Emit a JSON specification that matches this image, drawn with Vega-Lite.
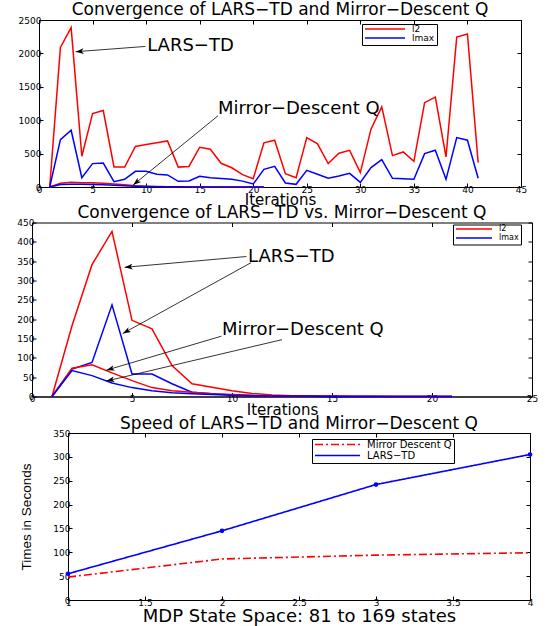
{
  "$schema": "https://vega.github.io/schema/vega-lite/v6.json",
  "background": "white",
  "padding": {"left": 0, "top": 0, "right": 0, "bottom": 0},
  "spacing": -4.5,
  "resolve": {"scale": {"color": "independent", "strokeDash": "independent"}, "legend": {"color": "independent", "strokeDash": "independent"}},
  "config": {
    "font": "DejaVu Sans",
    "view": {"stroke": "black", "strokeWidth": 1},
    "axis": {"grid": false, "domainColor": "black", "tickColor": "black", "tickSize": -4, "labelFont": "DejaVu Sans", "labelFontSize": 9, "labelColor": "black", "labelPadding": 2, "labelFlush": false, "labelOverlap": false, "titleFont": "DejaVu Sans", "titleFontWeight": "normal", "titleColor": "black", "titleFontSize": 15, "titlePadding": -3},
    "legend": {"strokeColor": "black", "fillColor": "white", "padding": 2, "labelFont": "DejaVu Sans", "labelColor": "black", "symbolType": "stroke", "symbolStrokeWidth": 1.5, "rowPadding": 0, "labelOffset": 6, "cornerRadius": 0},
    "title": {"font": "DejaVu Sans", "fontWeight": "normal", "fontSize": 17, "color": "black", "frame": "group", "anchor": "middle", "baseline": "alphabetic"},
    "text": {"font": "DejaVu Sans"}
  },
  "datasets": {
    "p1": [
      {"it":1,"v":0,"m":"l2","g":"LARS"},{"it":2,"v":2090,"m":"l2","g":"LARS"},{"it":3,"v":2385,"m":"l2","g":"LARS"},{"it":4,"v":460,"m":"l2","g":"LARS"},{"it":5,"v":1100,"m":"l2","g":"LARS"},{"it":6,"v":1145,"m":"l2","g":"LARS"},{"it":7,"v":300,"m":"l2","g":"LARS"},{"it":8,"v":298,"m":"l2","g":"LARS"},{"it":9,"v":608,"m":"l2","g":"LARS"},{"it":10,"v":635,"m":"l2","g":"LARS"},{"it":11,"v":662,"m":"l2","g":"LARS"},{"it":12,"v":690,"m":"l2","g":"LARS"},{"it":13,"v":298,"m":"l2","g":"LARS"},{"it":14,"v":308,"m":"l2","g":"LARS"},{"it":15,"v":595,"m":"l2","g":"LARS"},{"it":16,"v":565,"m":"l2","g":"LARS"},{"it":17,"v":355,"m":"l2","g":"LARS"},{"it":18,"v":288,"m":"l2","g":"LARS"},{"it":19,"v":185,"m":"l2","g":"LARS"},{"it":20,"v":125,"m":"l2","g":"LARS"},{"it":21,"v":662,"m":"l2","g":"LARS"},{"it":22,"v":700,"m":"l2","g":"LARS"},{"it":23,"v":200,"m":"l2","g":"LARS"},{"it":24,"v":140,"m":"l2","g":"LARS"},{"it":25,"v":740,"m":"l2","g":"LARS"},{"it":26,"v":645,"m":"l2","g":"LARS"},{"it":27,"v":352,"m":"l2","g":"LARS"},{"it":28,"v":505,"m":"l2","g":"LARS"},{"it":29,"v":548,"m":"l2","g":"LARS"},{"it":30,"v":215,"m":"l2","g":"LARS"},{"it":31,"v":870,"m":"l2","g":"LARS"},{"it":32,"v":1200,"m":"l2","g":"LARS"},{"it":33,"v":470,"m":"l2","g":"LARS"},{"it":34,"v":525,"m":"l2","g":"LARS"},{"it":35,"v":385,"m":"l2","g":"LARS"},{"it":36,"v":1262,"m":"l2","g":"LARS"},{"it":37,"v":1345,"m":"l2","g":"LARS"},{"it":38,"v":450,"m":"l2","g":"LARS"},{"it":39,"v":2245,"m":"l2","g":"LARS"},{"it":40,"v":2290,"m":"l2","g":"LARS"},{"it":41,"v":365,"m":"l2","g":"LARS"},
      {"it":1,"v":0,"m":"lmax","g":"LARS"},{"it":2,"v":710,"m":"lmax","g":"LARS"},{"it":3,"v":850,"m":"lmax","g":"LARS"},{"it":4,"v":140,"m":"lmax","g":"LARS"},{"it":5,"v":350,"m":"lmax","g":"LARS"},{"it":6,"v":358,"m":"lmax","g":"LARS"},{"it":7,"v":80,"m":"lmax","g":"LARS"},{"it":8,"v":115,"m":"lmax","g":"LARS"},{"it":9,"v":235,"m":"lmax","g":"LARS"},{"it":10,"v":235,"m":"lmax","g":"LARS"},{"it":11,"v":190,"m":"lmax","g":"LARS"},{"it":12,"v":180,"m":"lmax","g":"LARS"},{"it":13,"v":85,"m":"lmax","g":"LARS"},{"it":14,"v":90,"m":"lmax","g":"LARS"},{"it":15,"v":160,"m":"lmax","g":"LARS"},{"it":16,"v":140,"m":"lmax","g":"LARS"},{"it":17,"v":128,"m":"lmax","g":"LARS"},{"it":18,"v":115,"m":"lmax","g":"LARS"},{"it":19,"v":88,"m":"lmax","g":"LARS"},{"it":20,"v":45,"m":"lmax","g":"LARS"},{"it":21,"v":265,"m":"lmax","g":"LARS"},{"it":22,"v":310,"m":"lmax","g":"LARS"},{"it":23,"v":60,"m":"lmax","g":"LARS"},{"it":24,"v":40,"m":"lmax","g":"LARS"},{"it":25,"v":250,"m":"lmax","g":"LARS"},{"it":26,"v":190,"m":"lmax","g":"LARS"},{"it":27,"v":130,"m":"lmax","g":"LARS"},{"it":28,"v":165,"m":"lmax","g":"LARS"},{"it":29,"v":205,"m":"lmax","g":"LARS"},{"it":30,"v":70,"m":"lmax","g":"LARS"},{"it":31,"v":290,"m":"lmax","g":"LARS"},{"it":32,"v":410,"m":"lmax","g":"LARS"},{"it":33,"v":130,"m":"lmax","g":"LARS"},{"it":34,"v":125,"m":"lmax","g":"LARS"},{"it":35,"v":115,"m":"lmax","g":"LARS"},{"it":36,"v":500,"m":"lmax","g":"LARS"},{"it":37,"v":550,"m":"lmax","g":"LARS"},{"it":38,"v":115,"m":"lmax","g":"LARS"},{"it":39,"v":740,"m":"lmax","g":"LARS"},{"it":40,"v":700,"m":"lmax","g":"LARS"},{"it":41,"v":130,"m":"lmax","g":"LARS"},
      {"it":1,"v":0,"m":"l2","g":"MD"},{"it":2,"v":55,"m":"l2","g":"MD"},{"it":3,"v":70,"m":"l2","g":"MD"},{"it":4,"v":65,"m":"l2","g":"MD"},{"it":5,"v":62,"m":"l2","g":"MD"},{"it":6,"v":55,"m":"l2","g":"MD"},{"it":7,"v":45,"m":"l2","g":"MD"},{"it":8,"v":32,"m":"l2","g":"MD"},{"it":9,"v":20,"m":"l2","g":"MD"},{"it":10,"v":12,"m":"l2","g":"MD"},{"it":11,"v":7,"m":"l2","g":"MD"},{"it":12,"v":4,"m":"l2","g":"MD"},{"it":13,"v":3,"m":"l2","g":"MD"},{"it":14,"v":2,"m":"l2","g":"MD"},{"it":15,"v":1,"m":"l2","g":"MD"},{"it":16,"v":1,"m":"l2","g":"MD"},{"it":17,"v":0.5,"m":"l2","g":"MD"},{"it":18,"v":0.5,"m":"l2","g":"MD"},{"it":19,"v":0,"m":"l2","g":"MD"},{"it":20,"v":0,"m":"l2","g":"MD"},{"it":21,"v":0,"m":"l2","g":"MD"},
      {"it":1,"v":0,"m":"lmax","g":"MD"},{"it":2,"v":38,"m":"lmax","g":"MD"},{"it":3,"v":42,"m":"lmax","g":"MD"},{"it":4,"v":40,"m":"lmax","g":"MD"},{"it":5,"v":37,"m":"lmax","g":"MD"},{"it":6,"v":32,"m":"lmax","g":"MD"},{"it":7,"v":26,"m":"lmax","g":"MD"},{"it":8,"v":18,"m":"lmax","g":"MD"},{"it":9,"v":12,"m":"lmax","g":"MD"},{"it":10,"v":7,"m":"lmax","g":"MD"},{"it":11,"v":4,"m":"lmax","g":"MD"},{"it":12,"v":3,"m":"lmax","g":"MD"},{"it":13,"v":2,"m":"lmax","g":"MD"},{"it":14,"v":1,"m":"lmax","g":"MD"},{"it":15,"v":1,"m":"lmax","g":"MD"},{"it":16,"v":0.5,"m":"lmax","g":"MD"},{"it":17,"v":0,"m":"lmax","g":"MD"},{"it":18,"v":0,"m":"lmax","g":"MD"},{"it":19,"v":0,"m":"lmax","g":"MD"},{"it":20,"v":0,"m":"lmax","g":"MD"},{"it":21,"v":0,"m":"lmax","g":"MD"}
    ],
    "p2": [
      {"it":1,"v":0,"m":"l2","g":"LARS"},{"it":2,"v":183,"m":"l2","g":"LARS"},{"it":3,"v":341,"m":"l2","g":"LARS"},{"it":4,"v":427,"m":"l2","g":"LARS"},{"it":5,"v":197,"m":"l2","g":"LARS"},{"it":6,"v":175,"m":"l2","g":"LARS"},{"it":7,"v":80,"m":"l2","g":"LARS"},{"it":8,"v":33,"m":"l2","g":"LARS"},{"it":9,"v":24,"m":"l2","g":"LARS"},{"it":10,"v":15,"m":"l2","g":"LARS"},{"it":11,"v":8,"m":"l2","g":"LARS"},{"it":12,"v":4,"m":"l2","g":"LARS"},{"it":13,"v":2,"m":"l2","g":"LARS"},{"it":14,"v":1,"m":"l2","g":"LARS"},{"it":15,"v":1,"m":"l2","g":"LARS"},{"it":16,"v":0.5,"m":"l2","g":"LARS"},{"it":17,"v":0.5,"m":"l2","g":"LARS"},{"it":18,"v":0,"m":"l2","g":"LARS"},{"it":19,"v":0,"m":"l2","g":"LARS"},{"it":20,"v":0,"m":"l2","g":"LARS"},{"it":21,"v":0,"m":"l2","g":"LARS"},
      {"it":1,"v":0,"m":"lmax","g":"LARS"},{"it":2,"v":71,"m":"lmax","g":"LARS"},{"it":3,"v":88,"m":"lmax","g":"LARS"},{"it":4,"v":237,"m":"lmax","g":"LARS"},{"it":5,"v":58,"m":"lmax","g":"LARS"},{"it":6,"v":58,"m":"lmax","g":"LARS"},{"it":7,"v":33,"m":"lmax","g":"LARS"},{"it":8,"v":11,"m":"lmax","g":"LARS"},{"it":9,"v":7,"m":"lmax","g":"LARS"},{"it":10,"v":4,"m":"lmax","g":"LARS"},{"it":11,"v":2,"m":"lmax","g":"LARS"},{"it":12,"v":1,"m":"lmax","g":"LARS"},{"it":13,"v":1,"m":"lmax","g":"LARS"},{"it":14,"v":0.5,"m":"lmax","g":"LARS"},{"it":15,"v":0,"m":"lmax","g":"LARS"},{"it":16,"v":0,"m":"lmax","g":"LARS"},{"it":17,"v":0,"m":"lmax","g":"LARS"},{"it":18,"v":0,"m":"lmax","g":"LARS"},{"it":19,"v":0,"m":"lmax","g":"LARS"},{"it":20,"v":0,"m":"lmax","g":"LARS"},{"it":21,"v":0,"m":"lmax","g":"LARS"},
      {"it":1,"v":0,"m":"l2","g":"MD"},{"it":2,"v":73,"m":"l2","g":"MD"},{"it":3,"v":82,"m":"l2","g":"MD"},{"it":4,"v":61,"m":"l2","g":"MD"},{"it":5,"v":41,"m":"l2","g":"MD"},{"it":6,"v":23,"m":"l2","g":"MD"},{"it":7,"v":15,"m":"l2","g":"MD"},{"it":8,"v":11,"m":"l2","g":"MD"},{"it":9,"v":7,"m":"l2","g":"MD"},{"it":10,"v":5,"m":"l2","g":"MD"},{"it":11,"v":3,"m":"l2","g":"MD"},{"it":12,"v":2,"m":"l2","g":"MD"},{"it":13,"v":1,"m":"l2","g":"MD"},{"it":14,"v":1,"m":"l2","g":"MD"},{"it":15,"v":0.5,"m":"l2","g":"MD"},{"it":16,"v":0,"m":"l2","g":"MD"},{"it":17,"v":0,"m":"l2","g":"MD"},{"it":18,"v":0,"m":"l2","g":"MD"},{"it":19,"v":0,"m":"l2","g":"MD"},{"it":20,"v":0,"m":"l2","g":"MD"},{"it":21,"v":0,"m":"l2","g":"MD"},
      {"it":1,"v":0,"m":"lmax","g":"MD"},{"it":2,"v":67,"m":"lmax","g":"MD"},{"it":3,"v":54,"m":"lmax","g":"MD"},{"it":4,"v":35,"m":"lmax","g":"MD"},{"it":5,"v":23,"m":"lmax","g":"MD"},{"it":6,"v":15,"m":"lmax","g":"MD"},{"it":7,"v":10,"m":"lmax","g":"MD"},{"it":8,"v":7,"m":"lmax","g":"MD"},{"it":9,"v":5,"m":"lmax","g":"MD"},{"it":10,"v":3,"m":"lmax","g":"MD"},{"it":11,"v":2,"m":"lmax","g":"MD"},{"it":12,"v":1,"m":"lmax","g":"MD"},{"it":13,"v":1,"m":"lmax","g":"MD"},{"it":14,"v":0.5,"m":"lmax","g":"MD"},{"it":15,"v":0,"m":"lmax","g":"MD"},{"it":16,"v":0,"m":"lmax","g":"MD"},{"it":17,"v":0,"m":"lmax","g":"MD"},{"it":18,"v":0,"m":"lmax","g":"MD"},{"it":19,"v":0,"m":"lmax","g":"MD"},{"it":20,"v":0,"m":"lmax","g":"MD"},{"it":21,"v":0,"m":"lmax","g":"MD"}
    ],
    "p3": [
      {"state":1,"seconds":48,"method":"Mirror Descent Q"},{"state":2,"seconds":86,"method":"Mirror Descent Q"},{"state":3,"seconds":94,"method":"Mirror Descent Q"},{"state":4,"seconds":99,"method":"Mirror Descent Q"},
      {"state":1,"seconds":55,"method":"LARS−TD"},{"state":2,"seconds":145,"method":"LARS−TD"},{"state":3,"seconds":242,"method":"LARS−TD"},{"state":4,"seconds":305,"method":"LARS−TD"}
    ],
    "labels1": [
      {"label":"LARS−TD","x":10.1,"y":2115},
      {"label":"Mirror−Descent Q","x":16.7,"y":1170}
    ],
    "arrows1": [
      {"id":"a1","x":9.93,"y":2104,"hx":3.42,"hy":2025},
      {"id":"a2","x":16.7,"y":1065,"hx":8.79,"hy":30}
    ],
    "labels2": [
      {"label":"LARS−TD","x":10.8,"y":362},
      {"label":"Mirror−Descent Q","x":9.5,"y":171}
    ],
    "arrows2": [
      {"id":"b1","x":10.72,"y":362,"hx":4.63,"hy":334},
      {"id":"b2","x":10.95,"y":346,"hx":4.54,"hy":163},
      {"id":"b3","x":9.47,"y":156,"hx":3.72,"hy":68},
      {"id":"b4","x":12.5,"y":147,"hx":3.72,"hy":40}
    ],
    "none": []
  },
  "vconcat": [
    {
      "spacing": 0,
      "hconcat": [
        {"width": 17, "height": 1, "data": {"name": "none"}, "mark": "point", "view": {"stroke": null}},
        {
          "title": {"text": "Convergence of LARS−TD and Mirror−Descent Q", "offset": -3},
          "width": 482,
          "height": 167,
          "resolve": {"axis": {"x": "independent", "y": "independent"}},
          "layer": [
            {
              "data": {"name": "p1"},
              "mark": {"type": "line", "strokeWidth": 1.5},
              "encoding": {
                "x": {"field": "it", "type": "quantitative", "scale": {"domain": [0, 45], "nice": false, "zero": false}, "axis": {"orient": "bottom", "values": [0,5,10,15,20,25,30,35,40,45], "title": "Iterations", "titlePadding": -2}},
                "y": {"field": "v", "type": "quantitative", "scale": {"domain": [0, 2500], "nice": false}, "axis": {"values": [0,500,1000,1500,2000,2500], "format": "d", "title": null}},
                "color": {"field": "m", "type": "nominal", "scale": {"domain": ["l2", "lmax"], "range": ["#ff0000", "#0000ff"]}, "legend": {"title": null, "orient": "none", "legendX": 362, "legendY": 4, "symbolSize": 1600, "labelFontSize": 9, "clipHeight": 6}},
                "detail": {"field": "g", "type": "nominal"}
              }
            },
            {
              "data": {"name": "arrows1"},
              "mark": {"type": "rule", "color": "black", "strokeWidth": 0.8},
              "encoding": {
                "x": {"field": "x", "type": "quantitative", "scale": {"domain": [0, 45], "nice": false, "zero": false}, "axis": {"orient": "top", "values": [0,5,10,15,20,25,30,35,40,45], "labels": false, "title": null, "domain": false}},
                "y": {"field": "y", "type": "quantitative", "scale": {"domain": [0, 2500], "nice": false}, "axis": {"orient": "right", "values": [0,500,1000,1500,2000,2500], "labels": false, "title": null, "domain": false}},
                "x2": {"field": "hx"},
                "y2": {"field": "hy"}
              }
            },
            {
              "data": {"name": "arrows1"},
              "transform": [{"filter": "datum.id == 'a1'"}],
              "mark": {"type": "point", "shape": "M0,0L-2,-0.7L-1.5,0L-2,0.7Z", "filled": true, "color": "black", "opacity": 1, "size": 64, "angle": 175.6},
              "encoding": {
                "x": {"field": "hx", "type": "quantitative", "scale": {"domain": [0, 45], "nice": false, "zero": false}, "axis": null},
                "y": {"field": "hy", "type": "quantitative", "scale": {"domain": [0, 2500], "nice": false}, "axis": null}
              }
            },
            {
              "data": {"name": "arrows1"},
              "transform": [{"filter": "datum.id == 'a2'"}],
              "mark": {"type": "point", "shape": "M0,0L-2,-0.7L-1.5,0L-2,0.7Z", "filled": true, "color": "black", "opacity": 1, "size": 64, "angle": 140.8},
              "encoding": {
                "x": {"field": "hx", "type": "quantitative", "scale": {"domain": [0, 45], "nice": false, "zero": false}, "axis": null},
                "y": {"field": "hy", "type": "quantitative", "scale": {"domain": [0, 2500], "nice": false}, "axis": null}
              }
            },
            {
              "data": {"name": "labels1"},
              "mark": {"type": "text", "align": "left", "baseline": "middle", "fontSize": 18, "color": "black"},
              "encoding": {
                "x": {"field": "x", "type": "quantitative", "scale": {"domain": [0, 45], "nice": false, "zero": false}, "axis": null},
                "y": {"field": "y", "type": "quantitative", "scale": {"domain": [0, 2500], "nice": false}, "axis": null},
                "text": {"field": "label"}
              }
            }
          ]
        }
      ]
    },
    {
      "spacing": 0,
      "hconcat": [
        {"width": 15.5, "height": 1, "data": {"name": "none"}, "mark": "point", "view": {"stroke": null}},
        {
          "title": {"text": "Convergence of LARS−TD vs. Mirror−Descent Q", "offset": -3.5},
          "width": 500,
          "height": 174,
          "resolve": {"axis": {"x": "independent", "y": "independent"}},
          "layer": [
            {
              "data": {"name": "p2"},
              "mark": {"type": "line", "strokeWidth": 1.5},
              "encoding": {
                "x": {"field": "it", "type": "quantitative", "scale": {"domain": [0, 25], "nice": false, "zero": false}, "axis": {"orient": "bottom", "values": [0,5,10,15,20,25], "title": "Iterations", "titlePadding": -1}},
                "y": {"field": "v", "type": "quantitative", "scale": {"domain": [0, 450], "nice": false}, "axis": {"values": [0,50,100,150,200,250,300,350,400,450], "format": "d", "title": null}},
                "color": {"field": "m", "type": "nominal", "scale": {"domain": ["l2", "lmax"], "range": ["#ff0000", "#0000ff"]}, "legend": {"title": null, "orient": "none", "legendX": 453, "legendY": 2, "symbolSize": 1296, "labelFontSize": 8, "padding": 2, "clipHeight": 5}},
                "detail": {"field": "g", "type": "nominal"}
              }
            },
            {
              "data": {"name": "arrows2"},
              "mark": {"type": "rule", "color": "black", "strokeWidth": 0.8},
              "encoding": {
                "x": {"field": "x", "type": "quantitative", "scale": {"domain": [0, 25], "nice": false, "zero": false}, "axis": {"orient": "top", "values": [0,5,10,15,20,25], "labels": false, "title": null, "domain": false}},
                "y": {"field": "y", "type": "quantitative", "scale": {"domain": [0, 450], "nice": false}, "axis": {"orient": "right", "values": [0,50,100,150,200,250,300,350,400,450], "labels": false, "title": null, "domain": false}},
                "x2": {"field": "hx"},
                "y2": {"field": "hy"}
              }
            },
            {
              "data": {"name": "arrows2"},
              "transform": [{"filter": "datum.id == 'b1'"}],
              "mark": {"type": "point", "shape": "M0,0L-2,-0.7L-1.5,0L-2,0.7Z", "filled": true, "color": "black", "opacity": 1, "size": 64, "angle": 174.8},
              "encoding": {
                "x": {"field": "hx", "type": "quantitative", "scale": {"domain": [0, 25], "nice": false, "zero": false}, "axis": null},
                "y": {"field": "hy", "type": "quantitative", "scale": {"domain": [0, 450], "nice": false}, "axis": null}
              }
            },
            {
              "data": {"name": "arrows2"},
              "transform": [{"filter": "datum.id == 'b2'"}],
              "mark": {"type": "point", "shape": "M0,0L-2,-0.7L-1.5,0L-2,0.7Z", "filled": true, "color": "black", "opacity": 1, "size": 64, "angle": 151.1},
              "encoding": {
                "x": {"field": "hx", "type": "quantitative", "scale": {"domain": [0, 25], "nice": false, "zero": false}, "axis": null},
                "y": {"field": "hy", "type": "quantitative", "scale": {"domain": [0, 450], "nice": false}, "axis": null}
              }
            },
            {
              "data": {"name": "arrows2"},
              "transform": [{"filter": "datum.id == 'b3'"}],
              "mark": {"type": "point", "shape": "M0,0L-2,-0.7L-1.5,0L-2,0.7Z", "filled": true, "color": "black", "opacity": 1, "size": 64, "angle": 163.5},
              "encoding": {
                "x": {"field": "hx", "type": "quantitative", "scale": {"domain": [0, 25], "nice": false, "zero": false}, "axis": null},
                "y": {"field": "hy", "type": "quantitative", "scale": {"domain": [0, 450], "nice": false}, "axis": null}
              }
            },
            {
              "data": {"name": "arrows2"},
              "transform": [{"filter": "datum.id == 'b4'"}],
              "mark": {"type": "point", "shape": "M0,0L-2,-0.7L-1.5,0L-2,0.7Z", "filled": true, "color": "black", "opacity": 1, "size": 64, "angle": 166.7},
              "encoding": {
                "x": {"field": "hx", "type": "quantitative", "scale": {"domain": [0, 25], "nice": false, "zero": false}, "axis": null},
                "y": {"field": "hy", "type": "quantitative", "scale": {"domain": [0, 450], "nice": false}, "axis": null}
              }
            },
            {
              "data": {"name": "labels2"},
              "mark": {"type": "text", "align": "left", "baseline": "middle", "fontSize": 18, "color": "black"},
              "encoding": {
                "x": {"field": "x", "type": "quantitative", "scale": {"domain": [0, 25], "nice": false, "zero": false}, "axis": null},
                "y": {"field": "y", "type": "quantitative", "scale": {"domain": [0, 450], "nice": false}, "axis": null},
                "text": {"field": "label"}
              }
            }
          ]
        }
      ]
    },
    {
      "spacing": 0,
      "hconcat": [
        {"width": 18.5, "height": 1, "data": {"name": "none"}, "mark": "point", "view": {"stroke": null}},
        {
          "title": {"text": "Speed of LARS−TD and Mirror−Descent Q", "offset": -3.5},
          "width": 462,
          "height": 167,
          "resolve": {"axis": {"x": "independent", "y": "independent"}},
          "layer": [
            {
              "data": {"name": "p3"},
              "mark": {"type": "line", "strokeWidth": 1.6},
              "encoding": {
                "x": {"field": "state", "type": "quantitative", "scale": {"domain": [1, 4], "nice": false, "zero": false}, "axis": {"orient": "bottom", "values": [1,1.5,2,2.5,3,3.5,4], "format": "~g", "title": "MDP State Space: 81 to 169 states", "titleFontSize": 18, "titlePadding": 0}},
                "y": {"field": "seconds", "type": "quantitative", "scale": {"domain": [0, 350], "nice": false}, "axis": {"values": [0,50,100,150,200,250,300,350], "format": "d", "title": "Times in Seconds", "titleFont": "Liberation Sans", "titleFontSize": 13.5, "titlePadding": 19}},
                "color": {"field": "method", "type": "nominal", "scale": {"domain": ["Mirror Descent Q", "LARS−TD"], "range": ["#ff0000", "#0000ff"]}, "legend": {"title": null, "orient": "none", "legendX": 312, "legendY": 6, "symbolSize": 2025, "labelFontSize": 10, "padding": 2, "clipHeight": 7}},
                "strokeDash": {"field": "method", "type": "nominal", "scale": {"domain": ["Mirror Descent Q", "LARS−TD"], "range": [[8, 3, 2, 3], [1, 0]]}, "legend": {"title": null, "orient": "none", "legendX": 312, "legendY": 6, "symbolSize": 2025, "labelFontSize": 10, "padding": 2, "clipHeight": 7}}
              }
            },
            {
              "data": {"name": "p3"},
              "transform": [{"filter": "datum.method == 'LARS−TD'"}],
              "mark": {"type": "point", "filled": true, "color": "#0000ff", "opacity": 1, "size": 22},
              "encoding": {
                "x": {"field": "state", "type": "quantitative", "scale": {"domain": [1, 4], "nice": false, "zero": false}, "axis": {"orient": "top", "values": [1,1.5,2,2.5,3,3.5,4], "labels": false, "title": null, "domain": false}},
                "y": {"field": "seconds", "type": "quantitative", "scale": {"domain": [0, 350], "nice": false}, "axis": {"orient": "right", "values": [0,50,100,150,200,250,300,350], "labels": false, "title": null, "domain": false}}
              }
            }
          ]
        }
      ]
    }
  ]
}
